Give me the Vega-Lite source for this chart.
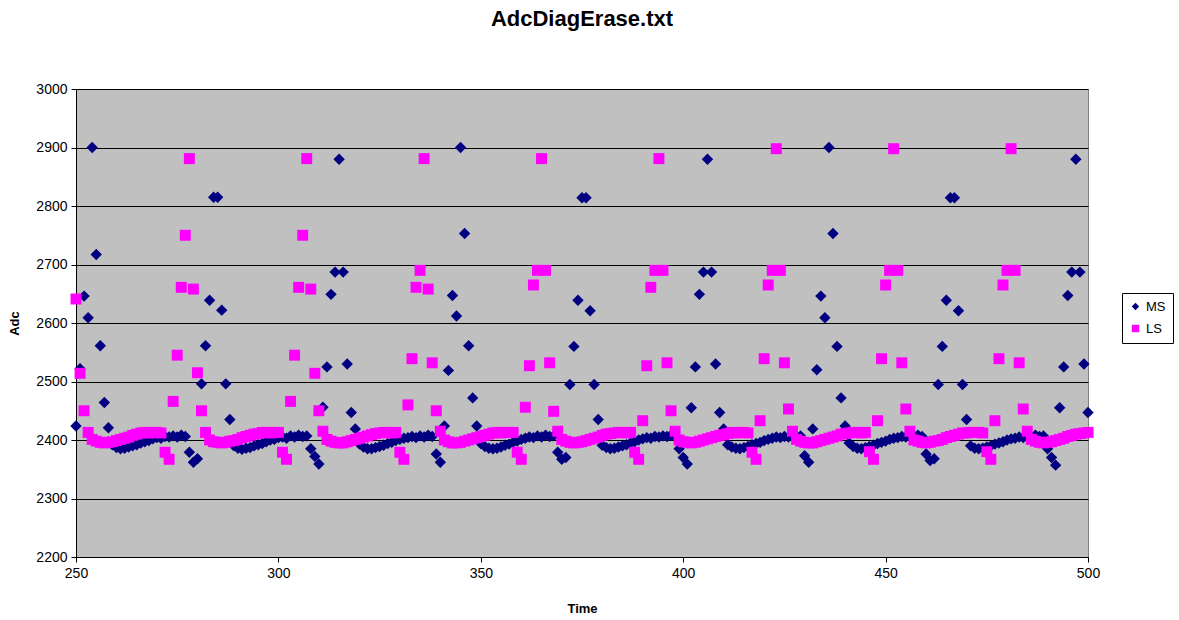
{
"$schema": "https://vega.github.io/schema/vega-lite/v6.json",
"width": 1012,
"height": 468,
"autosize": {"type": "none"},
"padding": {"left": 76, "top": 89, "right": 91, "bottom": 63},
"background": "white",
"title": {"text": "AdcDiagErase.txt", "font": "Liberation Sans", "fontSize": 22, "fontWeight": "bold", "color": "black", "anchor": "middle", "offset": 51},
"config": {
  "view": {"fill": "#C0C0C0", "stroke": "#808080", "strokeWidth": 1},
  "axis": {"labelFont": "Liberation Sans", "labelFontSize": 14, "labelColor": "black", "titleFont": "Liberation Sans", "titleFontSize": 13, "titleFontWeight": "bold", "titleColor": "black", "domainColor": "black", "tickColor": "black", "tickSize": 5, "domainWidth": 1},
  "legend": {"labelFont": "Liberation Sans", "labelFontSize": 14, "labelColor": "black"}
},
"data": {"values": [
{"t":250,"MS":2424,"LS":2641},{"t":251,"MS":2522,"LS":2514},{"t":252,"MS":2646,"LS":2450},{"t":253,"MS":2609,"LS":2413},{"t":254,"MS":2900,"LS":2401},{"t":255,"MS":2717,"LS":2398},{"t":256,"MS":2561,"LS":2396},{"t":257,"MS":2464,"LS":2395},{"t":258,"MS":2421,"LS":2396},{"t":259,"MS":2392,"LS":2397},
{"t":260,"MS":2387,"LS":2399},{"t":261,"MS":2385,"LS":2401},{"t":262,"MS":2386,"LS":2403},{"t":263,"MS":2388,"LS":2405},{"t":264,"MS":2390,"LS":2408},{"t":265,"MS":2392,"LS":2410},{"t":266,"MS":2395,"LS":2412},{"t":267,"MS":2397,"LS":2413},{"t":268,"MS":2399,"LS":2412},{"t":269,"MS":2402,"LS":2413},
{"t":270,"MS":2404,"LS":2413},{"t":271,"MS":2403,"LS":2412},{"t":272,"MS":2406,"LS":2379},{"t":273,"MS":2405,"LS":2367},{"t":274,"MS":2407,"LS":2466},{"t":275,"MS":2405,"LS":2545},{"t":276,"MS":2408,"LS":2661},{"t":277,"MS":2406,"LS":2750},{"t":278,"MS":2379,"LS":2881},{"t":279,"MS":2362,"LS":2658},
{"t":280,"MS":2368,"LS":2515},{"t":281,"MS":2496,"LS":2450},{"t":282,"MS":2561,"LS":2413},{"t":283,"MS":2639,"LS":2400},{"t":284,"MS":2815,"LS":2397},{"t":285,"MS":2815,"LS":2396},{"t":286,"MS":2622,"LS":2395},{"t":287,"MS":2496,"LS":2396},{"t":288,"MS":2435,"LS":2398},{"t":289,"MS":2390,"LS":2399},
{"t":290,"MS":2386,"LS":2401},{"t":291,"MS":2384,"LS":2404},{"t":292,"MS":2386,"LS":2406},{"t":293,"MS":2387,"LS":2408},{"t":294,"MS":2390,"LS":2410},{"t":295,"MS":2392,"LS":2411},{"t":296,"MS":2394,"LS":2413},{"t":297,"MS":2397,"LS":2413},{"t":298,"MS":2400,"LS":2412},{"t":299,"MS":2401,"LS":2413},
{"t":300,"MS":2404,"LS":2413},{"t":301,"MS":2405,"LS":2379},{"t":302,"MS":2403,"LS":2367},{"t":303,"MS":2407,"LS":2466},{"t":304,"MS":2405,"LS":2545},{"t":305,"MS":2408,"LS":2661},{"t":306,"MS":2406,"LS":2750},{"t":307,"MS":2407,"LS":2881},{"t":308,"MS":2385,"LS":2658},{"t":309,"MS":2372,"LS":2514},
{"t":310,"MS":2359,"LS":2450},{"t":311,"MS":2456,"LS":2415},{"t":312,"MS":2525,"LS":2401},{"t":313,"MS":2649,"LS":2398},{"t":314,"MS":2687,"LS":2396},{"t":315,"MS":2880,"LS":2395},{"t":316,"MS":2687,"LS":2395},{"t":317,"MS":2530,"LS":2397},{"t":318,"MS":2447,"LS":2399},{"t":319,"MS":2419,"LS":2401},
{"t":320,"MS":2393,"LS":2403},{"t":321,"MS":2388,"LS":2405},{"t":322,"MS":2385,"LS":2407},{"t":323,"MS":2385,"LS":2409},{"t":324,"MS":2387,"LS":2411},{"t":325,"MS":2389,"LS":2412},{"t":326,"MS":2391,"LS":2413},{"t":327,"MS":2394,"LS":2413},{"t":328,"MS":2396,"LS":2412},{"t":329,"MS":2399,"LS":2413},
{"t":330,"MS":2401,"LS":2379},{"t":331,"MS":2403,"LS":2367},{"t":332,"MS":2404,"LS":2460},{"t":333,"MS":2406,"LS":2539},{"t":334,"MS":2404,"LS":2661},{"t":335,"MS":2407,"LS":2690},{"t":336,"MS":2405,"LS":2881},{"t":337,"MS":2408,"LS":2658},{"t":338,"MS":2406,"LS":2532},{"t":339,"MS":2376,"LS":2450},
{"t":340,"MS":2362,"LS":2415},{"t":341,"MS":2424,"LS":2400},{"t":342,"MS":2519,"LS":2397},{"t":343,"MS":2647,"LS":2395},{"t":344,"MS":2612,"LS":2395},{"t":345,"MS":2900,"LS":2396},{"t":346,"MS":2753,"LS":2398},{"t":347,"MS":2561,"LS":2400},{"t":348,"MS":2472,"LS":2402},{"t":349,"MS":2424,"LS":2404},
{"t":350,"MS":2394,"LS":2406},{"t":351,"MS":2389,"LS":2408},{"t":352,"MS":2386,"LS":2410},{"t":353,"MS":2385,"LS":2412},{"t":354,"MS":2386,"LS":2413},{"t":355,"MS":2388,"LS":2412},{"t":356,"MS":2391,"LS":2413},{"t":357,"MS":2393,"LS":2413},{"t":358,"MS":2396,"LS":2413},{"t":359,"MS":2398,"LS":2379},
{"t":360,"MS":2401,"LS":2367},{"t":361,"MS":2403,"LS":2456},{"t":362,"MS":2405,"LS":2527},{"t":363,"MS":2404,"LS":2665},{"t":364,"MS":2407,"LS":2690},{"t":365,"MS":2405,"LS":2881},{"t":366,"MS":2408,"LS":2690},{"t":367,"MS":2406,"LS":2532},{"t":368,"MS":2407,"LS":2449},{"t":369,"MS":2379,"LS":2415},
{"t":370,"MS":2367,"LS":2401},{"t":371,"MS":2370,"LS":2398},{"t":372,"MS":2495,"LS":2396},{"t":373,"MS":2560,"LS":2395},{"t":374,"MS":2639,"LS":2396},{"t":375,"MS":2814,"LS":2397},{"t":376,"MS":2814,"LS":2399},{"t":377,"MS":2621,"LS":2401},{"t":378,"MS":2495,"LS":2403},{"t":379,"MS":2435,"LS":2405},
{"t":380,"MS":2391,"LS":2408},{"t":381,"MS":2387,"LS":2410},{"t":382,"MS":2385,"LS":2411},{"t":383,"MS":2386,"LS":2412},{"t":384,"MS":2388,"LS":2413},{"t":385,"MS":2390,"LS":2413},{"t":386,"MS":2392,"LS":2412},{"t":387,"MS":2395,"LS":2413},{"t":388,"MS":2397,"LS":2379},{"t":389,"MS":2400,"LS":2367},
{"t":390,"MS":2402,"LS":2433},{"t":391,"MS":2404,"LS":2527},{"t":392,"MS":2403,"LS":2661},{"t":393,"MS":2406,"LS":2690},{"t":394,"MS":2405,"LS":2881},{"t":395,"MS":2407,"LS":2690},{"t":396,"MS":2406,"LS":2532},{"t":397,"MS":2408,"LS":2450},{"t":398,"MS":2405,"LS":2415},{"t":399,"MS":2385,"LS":2400},
{"t":400,"MS":2370,"LS":2397},{"t":401,"MS":2359,"LS":2396},{"t":402,"MS":2455,"LS":2395},{"t":403,"MS":2525,"LS":2396},{"t":404,"MS":2649,"LS":2398},{"t":405,"MS":2687,"LS":2400},{"t":406,"MS":2880,"LS":2402},{"t":407,"MS":2687,"LS":2404},{"t":408,"MS":2530,"LS":2406},{"t":409,"MS":2447,"LS":2408},
{"t":410,"MS":2419,"LS":2409},{"t":411,"MS":2392,"LS":2411},{"t":412,"MS":2388,"LS":2413},{"t":413,"MS":2386,"LS":2412},{"t":414,"MS":2385,"LS":2413},{"t":415,"MS":2387,"LS":2413},{"t":416,"MS":2389,"LS":2412},{"t":417,"MS":2392,"LS":2379},{"t":418,"MS":2394,"LS":2367},{"t":419,"MS":2396,"LS":2433},
{"t":420,"MS":2399,"LS":2539},{"t":421,"MS":2401,"LS":2665},{"t":422,"MS":2403,"LS":2690},{"t":423,"MS":2405,"LS":2898},{"t":424,"MS":2404,"LS":2690},{"t":425,"MS":2406,"LS":2532},{"t":426,"MS":2405,"LS":2453},{"t":427,"MS":2408,"LS":2415},{"t":428,"MS":2406,"LS":2401},{"t":429,"MS":2407,"LS":2398},
{"t":430,"MS":2373,"LS":2396},{"t":431,"MS":2362,"LS":2395},{"t":432,"MS":2419,"LS":2395},{"t":433,"MS":2520,"LS":2397},{"t":434,"MS":2646,"LS":2399},{"t":435,"MS":2609,"LS":2401},{"t":436,"MS":2900,"LS":2403},{"t":437,"MS":2753,"LS":2405},{"t":438,"MS":2560,"LS":2407},{"t":439,"MS":2472,"LS":2410},
{"t":440,"MS":2424,"LS":2411},{"t":441,"MS":2395,"LS":2412},{"t":442,"MS":2389,"LS":2413},{"t":443,"MS":2386,"LS":2413},{"t":444,"MS":2385,"LS":2412},{"t":445,"MS":2387,"LS":2413},{"t":446,"MS":2389,"LS":2380},{"t":447,"MS":2391,"LS":2367},{"t":448,"MS":2394,"LS":2433},{"t":449,"MS":2396,"LS":2539},
{"t":450,"MS":2398,"LS":2665},{"t":451,"MS":2401,"LS":2690},{"t":452,"MS":2403,"LS":2898},{"t":453,"MS":2404,"LS":2690},{"t":454,"MS":2406,"LS":2532},{"t":455,"MS":2405,"LS":2453},{"t":456,"MS":2407,"LS":2415},{"t":457,"MS":2406,"LS":2400},{"t":458,"MS":2408,"LS":2398},{"t":459,"MS":2406,"LS":2396},
{"t":460,"MS":2376,"LS":2395},{"t":461,"MS":2365,"LS":2396},{"t":462,"MS":2368,"LS":2398},{"t":463,"MS":2495,"LS":2399},{"t":464,"MS":2560,"LS":2401},{"t":465,"MS":2639,"LS":2404},{"t":466,"MS":2814,"LS":2406},{"t":467,"MS":2814,"LS":2408},{"t":468,"MS":2621,"LS":2410},{"t":469,"MS":2495,"LS":2412},
{"t":470,"MS":2435,"LS":2412},{"t":471,"MS":2390,"LS":2413},{"t":472,"MS":2386,"LS":2413},{"t":473,"MS":2385,"LS":2413},{"t":474,"MS":2386,"LS":2412},{"t":475,"MS":2388,"LS":2380},{"t":476,"MS":2390,"LS":2367},{"t":477,"MS":2393,"LS":2433},{"t":478,"MS":2395,"LS":2539},{"t":479,"MS":2397,"LS":2665},
{"t":480,"MS":2400,"LS":2690},{"t":481,"MS":2402,"LS":2898},{"t":482,"MS":2403,"LS":2690},{"t":483,"MS":2405,"LS":2532},{"t":484,"MS":2404,"LS":2453},{"t":485,"MS":2407,"LS":2415},{"t":486,"MS":2405,"LS":2401},{"t":487,"MS":2408,"LS":2398},{"t":488,"MS":2406,"LS":2396},{"t":489,"MS":2407,"LS":2395},
{"t":490,"MS":2385,"LS":2396},{"t":491,"MS":2370,"LS":2397},{"t":492,"MS":2357,"LS":2399},{"t":493,"MS":2455,"LS":2401},{"t":494,"MS":2525,"LS":2403},{"t":495,"MS":2647,"LS":2406},{"t":496,"MS":2687,"LS":2408},{"t":497,"MS":2880,"LS":2410},{"t":498,"MS":2687,"LS":2411},{"t":499,"MS":2530,"LS":2412},
{"t":500,"MS":2447,"LS":2413}
]},
"encoding": {
  "x": {"field": "t", "type": "quantitative", "scale": {"domain": [250, 500], "nice": false, "zero": false},
        "axis": {"title": "Time", "format": "d", "values": [250, 300, 350, 400, 450, 500], "grid": false, "labelPadding": 4, "titlePadding": 22, "labelFlush": false}},
  "y": {"field": "adc", "type": "quantitative", "scale": {"domain": [2200, 3000], "nice": false, "zero": false},
        "axis": {"title": "Adc", "format": "d", "values": [2200, 2300, 2400, 2500, 2600, 2700, 2800, 2900, 3000], "grid": true, "gridColor": "black", "gridOpacity": 1, "gridWidth": 1, "labelPadding": 4, "titlePadding": 14, "labelFlush": false}},
  "color": {"field": "series", "type": "nominal", "scale": {"domain": ["MS", "LS"], "range": ["#000080", "#FF00FF"]},
            "legend": {"title": null, "orient": "none", "legendX": 1046, "legendY": 204, "strokeColor": "black", "fillColor": "white", "padding": 7, "rowPadding": 8, "symbolSize": 55, "labelOffset": 4, "labelFontSize": 13, "symbolStrokeWidth": 0}},
  "shape": {"field": "series", "type": "nominal", "scale": {"domain": ["MS", "LS"], "range": ["diamond", "square"]}, "legend": null}
},
"layer": [
  {"transform": [{"fold": ["MS"], "as": ["series", "adc"]}], "mark": {"type": "point", "filled": true, "opacity": 1, "size": 130, "strokeWidth": 0}},
  {"transform": [{"fold": ["LS"], "as": ["series", "adc"]}], "mark": {"type": "point", "filled": true, "opacity": 1, "size": 120, "strokeWidth": 0}}
]
}
